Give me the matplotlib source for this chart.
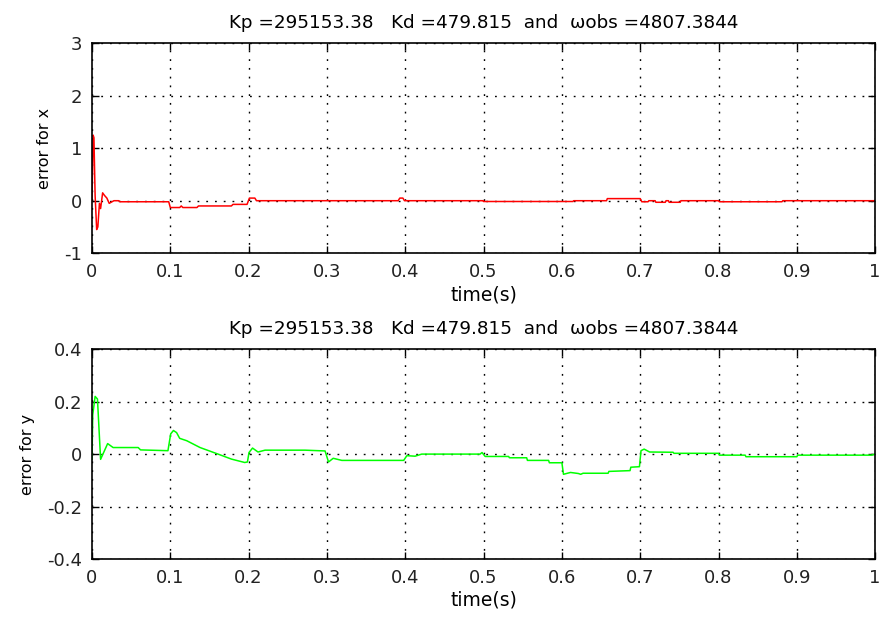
import matplotlib
matplotlib.use("Agg")
import matplotlib.pyplot as plt

plt.rcParams["font.family"] = ["DejaVu Sans"]

# x 方向误差（读图所得的折点）
t_x = [0, 0.0015, 0.0025, 0.004, 0.006, 0.0075, 0.0095, 0.011, 0.0136, 0.016,
       0.019, 0.022, 0.028, 0.034, 0.036, 0.098, 0.100, 0.112, 0.114, 0.116,
       0.134, 0.136, 0.178, 0.180, 0.198, 0.201, 0.208, 0.210, 0.391, 0.393,
       0.397, 0.399, 0.4995, 0.500, 0.614, 0.615, 0.657, 0.658, 0.700, 0.702,
       0.710, 0.711, 0.719, 0.720, 0.732, 0.733, 0.736, 0.737, 0.751, 0.752,
       0.800, 0.801, 0.881, 0.882, 1.0]
err_x = [0.0, 1.25, 1.2, 0.1, -0.55, -0.5, -0.05, -0.15, 0.15, 0.1,
         0.05, -0.05, 0.0, 0.0, -0.02, -0.02, -0.13, -0.13, -0.10, -0.13,
         -0.13, -0.10, -0.10, -0.07, -0.07, 0.05, 0.05, 0.0, 0.0, 0.05,
         0.05, 0.0, 0.0, -0.015, -0.015, 0.0, 0.0, 0.04, 0.04, -0.02,
         -0.02, 0.0, 0.0, -0.03, -0.03, 0.0, 0.0, -0.03, -0.03, 0.0,
         0.0, -0.02, -0.02, 0.0, 0.0]

# y 方向误差
t_y = [0, 0.001, 0.004, 0.007, 0.011, 0.014, 0.020, 0.027, 0.059, 0.062,
       0.097, 0.1005, 0.104, 0.108, 0.112, 0.121, 0.138, 0.161, 0.178, 0.195,
       0.1985, 0.2005, 0.205, 0.212, 0.221, 0.272, 0.2976, 0.302, 0.308, 0.319,
       0.398, 0.402, 0.4125, 0.421, 0.4955, 0.498, 0.502, 0.532, 0.533, 0.555,
       0.556, 0.583, 0.584, 0.600, 0.602, 0.611, 0.621, 0.624, 0.627, 0.659,
       0.660, 0.687, 0.688, 0.699, 0.701, 0.705, 0.712, 0.742, 0.743, 0.800,
       0.801, 0.834, 0.835, 0.900, 0.901, 0.995, 1.0]
err_y = [-0.02, 0.15, 0.22, 0.21, -0.02, 0.0, 0.04, 0.025, 0.025, 0.016,
         0.013, 0.077, 0.09, 0.082, 0.06, 0.051, 0.025, 0.0, -0.019, -0.032,
         -0.03, 0.006, 0.023, 0.008, 0.015, 0.015, 0.012, -0.03, -0.016, -0.024,
         -0.024, -0.006, -0.008, 0.0, 0.0, 0.006, -0.009, -0.009, -0.014, -0.014,
         -0.024, -0.024, -0.033, -0.033, -0.077, -0.07, -0.074, -0.077, -0.073, -0.073,
         -0.066, -0.063, -0.05, -0.048, 0.013, 0.019, 0.008, 0.007, 0.003, 0.003,
         -0.004, -0.004, -0.01, -0.01, -0.004, -0.004, 0.0]

title = "Kp =295153.38   Kd =479.815  and  \u03c9obs =4807.3844"
x_ticks = [0, 0.1, 0.2, 0.3, 0.4, 0.5, 0.6, 0.7, 0.8, 0.9, 1]
x_labels = ["0", "0.1", "0.2", "0.3", "0.4", "0.5", "0.6", "0.7", "0.8", "0.9", "1"]
yx_ticks = [-1, 0, 1, 2, 3]
yy_ticks = [-0.4, -0.2, 0, 0.2, 0.4]
yy_labels = ["-0.4", "-0.2", "0", "0.2", "0.4"]

fig = plt.figure(figsize=(8.81, 6.19), dpi=100)
ax1 = fig.add_axes([0.1044, 0.591, 0.889, 0.339])
ax2 = fig.add_axes([0.1044, 0.0969, 0.889, 0.339])


def style(ax, yticks, ylabels, ylim, ylabel):
    ax.set_xlim(0, 1)
    ax.set_ylim(*ylim)
    ax.set_xticks(x_ticks)
    ax.set_xticklabels(x_labels)
    ax.set_yticks(yticks)
    ax.set_yticklabels(ylabels)
    ax.tick_params(direction="in", top=True, right=True, length=5, width=1,
                   labelsize=13, pad=7, labelcolor="#222222")
    ax.grid(True, color="black", linestyle=(0, (1.3, 5)), linewidth=1.0)
    for s in ax.spines.values():
        s.set_linewidth(1.2)
    ax.set_xlabel("time(s)", fontsize=13.5, labelpad=3)
    ax.set_ylabel(ylabel, fontsize=11.5, labelpad=9)
    ax.set_title(title, fontsize=13.2, pad=11)


ax1.plot(t_x, err_x, color="red", linewidth=1.1)
style(ax1, yx_ticks, [str(v) for v in yx_ticks], (-1, 3), "error for x")

ax2.plot(t_y, err_y, color="#00ff00", linewidth=1.1)
style(ax2, yy_ticks, yy_labels, (-0.4, 0.4), "error for y")

fig.savefig("out.png", dpi=100)
